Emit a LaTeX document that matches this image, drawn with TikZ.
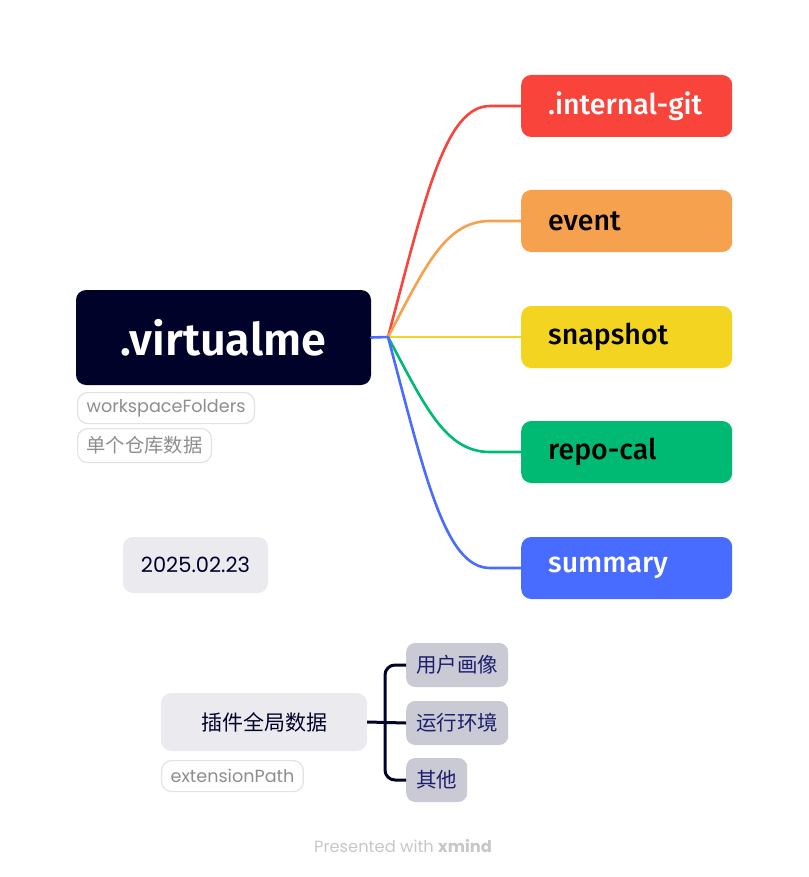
\documentclass[tikz,border=0pt]{standalone}
\usepackage{fontspec}
\setmainfont{Fira Sans}
\newfontfamily\cjk{Noto Sans CJK SC}
\newfontfamily\medf{Fira Sans Medium}
\newfontfamily\semif{Fira Sans SemiBold}
\newfontfamily\popf{Poppins}
\definecolor{navy}{HTML}{000229}
\definecolor{cred}{HTML}{F9443B}
\definecolor{corange}{HTML}{F6A14E}
\definecolor{cyellow}{HTML}{F2D421}
\definecolor{cgreen}{HTML}{00BA74}
\definecolor{cblue}{HTML}{486CFF}
\definecolor{lgray}{HTML}{EBEAEE}
\definecolor{subgray}{HTML}{CACAD4}
\definecolor{subtext}{HTML}{1E1E6E}
\definecolor{bordergray}{HTML}{E2E2E2}
\definecolor{labeltext}{HTML}{8E8E8E}
\tikzset{
  central/.style={fill=navy, rounded corners=10pt, minimum width=295pt, minimum height=95pt, text=white, font=\fontsize{45}{48}\selectfont\semif, inner sep=0pt},
  child/.style={rounded corners=10pt, minimum height=62pt, text width=157pt, inner xsep=27pt, inner ysep=0pt, align=left, anchor=west, font=\fontsize{28.5}{32}\selectfont\medf},
  labelbox/.style={draw=bordergray, line width=1.2pt, fill=white, rounded corners=10pt, anchor=north west, inner xsep=9pt, inner ysep=0pt, minimum height=31pt, text=labeltext, font=\fontsize{17.6}{20}\selectfont\popf},
  graybox/.style={fill=lgray, rounded corners=10pt, inner sep=0pt, text=navy},
  subbox/.style={fill=subgray, rounded corners=9pt, inner xsep=10pt, inner ysep=0pt, minimum height=44pt, anchor=west, text=subtext, font=\fontsize{20.5}{24}\selectfont\cjk},
  branch/.style={line width=2.6pt, line cap=round},
  bracket/.style={line width=3pt, draw=navy, rounded corners=10pt}
}
\begin{document}
\begin{tikzpicture}[x=1pt,y=-1pt]
\useasboundingbox (0,0) rectangle (808,877);

% central
\node[central] (root) at (223.5,337.5) {.virtualme};
\node[labelbox] (ws) at (77,392) {workspaceFolders};
\node[labelbox, font=\fontsize{19.3}{22}\selectfont\cjk, minimum height=34pt] (repo) at (77,428) {单个仓库数据};

% children
\node[child, fill=cred, text=white] (git) at (521,106) {.internal-git};
\node[child, fill=corange, text=black] (event) at (521,221) {event};
\node[child, fill=cyellow, text=black] (snap) at (521,337) {snapshot};
\node[child, fill=cgreen, text=black] (cal) at (521,452) {repo-cal};
\node[child, fill=cblue, text=white] (sum) at (521,568) {summary};

% connectors
\coordinate (j) at (388,337);
\draw[branch, cblue] (root.east) -- (j);
\draw[branch, cred] (j) .. controls (425,198) and (445,106) .. (490,106) -- (git.west);
\draw[branch, corange] (j) .. controls (425,267) and (445,221) .. (490,221) -- (event.west);
\draw[branch, cyellow] (j) -- (snap.west);
\draw[branch, cgreen] (j) .. controls (425,406) and (445,452) .. (490,452) -- (cal.west);
\draw[branch, cblue] (j) .. controls (425,476) and (445,568) .. (490,568) -- (sum.west);

% date
\node[graybox, minimum width=145pt, minimum height=56pt, font=\fontsize{21}{24}\selectfont\popf] (date) at (195.5,565) {2025.02.23};

% plugin data
\node[graybox, minimum width=206pt, minimum height=58pt, font=\fontsize{21}{24}\selectfont\cjk] (plugin) at (264,722) {插件全局数据};
\node[labelbox] (ext) at (161,760) {extensionPath};

\node[subbox] (u1) at (406,665) {用户画像};
\node[subbox] (env) at (406,723) {运行环境};
\node[subbox] (oth) at (406,780) {其他};

\draw[bracket] (plugin.east) -- (env.west);
\draw[bracket] (u1.west) -- (385,665) -- (385,780) -- (oth.west);

% footer
\node[text=black!22, font=\fontsize{16.3}{19}\selectfont\popf] (footer) at (403,846) {Presented with \textbf{xmind}};
\end{tikzpicture}
\end{document}
